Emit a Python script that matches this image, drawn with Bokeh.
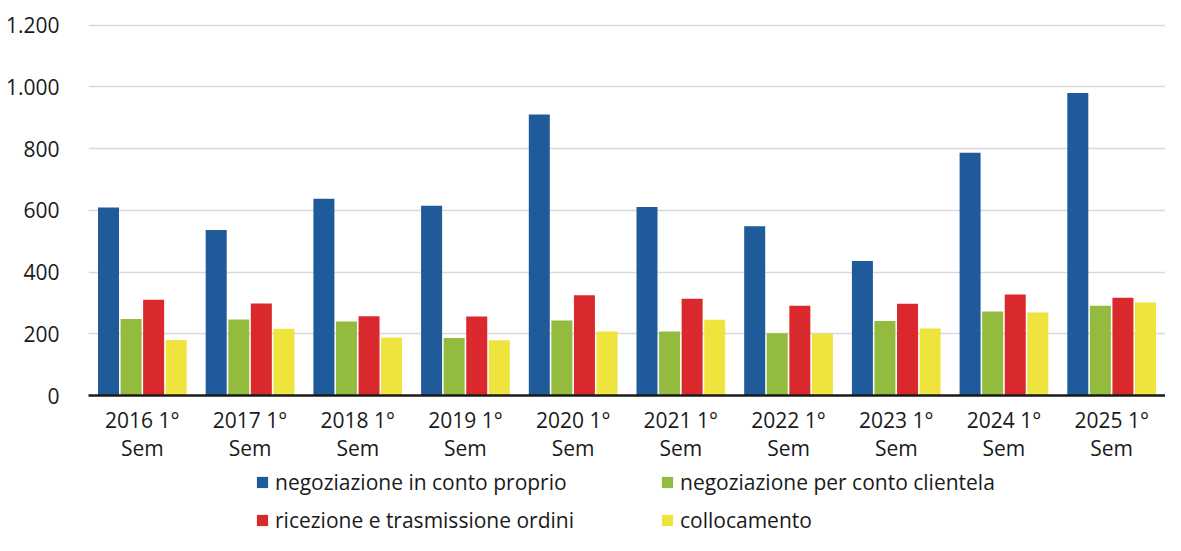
from bokeh.plotting import figure
from bokeh.layouts import column
from bokeh.models import (FactorRange, Range1d, FixedTicker, CustomJSTickFormatter,
                          Legend, LegendItem, ColumnDataSource)
from bokeh.transform import dodge
from bokeh.embed import file_html
from bokeh.resources import INLINE

categories = ["2016 1°\nSem", "2017 1°\nSem", "2018 1°\nSem", "2019 1°\nSem", "2020 1°\nSem",
              "2021 1°\nSem", "2022 1°\nSem", "2023 1°\nSem", "2024 1°\nSem", "2025 1°\nSem"]
conto_proprio = [609, 536, 637, 615, 910, 611, 548, 436, 786, 980]
conto_clientela = [248, 246, 240, 186, 243, 207, 202, 241, 272, 291]
ricezione = [310, 298, 257, 256, 325, 313, 291, 297, 327, 317]
collocamento = [180, 216, 188, 179, 207, 245, 201, 217, 269, 301]
series_names = ["negoziazione in conto proprio", "negoziazione per conto clientela",
                "ricezione e trasmissione ordini", "collocamento"]
colors = ["#1F5A9A", "#93BB3D", "#D9292C", "#EFE33D"]
y_ticks = [0, 200, 400, 600, 800, 1000, 1200]

FONT = "Open Sans"
W = 1165
FRAME_BOTTOM = 395
H1 = 466
H2 = 535 - H1

src = ColumnDataSource(dict(cat=categories, s0=conto_proprio, s1=conto_clientela,
                            s2=ricezione, s3=collocamento))

p = figure(width=W, height=H1, x_range=FactorRange(*categories, range_padding=0),
           y_range=Range1d(0, 1205), output_backend="svg", toolbar_location=None,
           min_border_left=88, min_border_right=0, min_border_top=23,
           min_border_bottom=H1 - FRAME_BOTTOM)
p.outline_line_color = None

offsets = [-0.3143, -0.1048, 0.1048, 0.3143]
for i, off in enumerate(offsets):
    p.vbar(x=dodge("cat", off, range=p.x_range), top="s%d" % i, width=0.195,
           source=src, fill_color=colors[i], line_color=None)

# axes
p.yaxis.ticker = FixedTicker(ticks=y_ticks)
p.yaxis.formatter = CustomJSTickFormatter(code="""
    if (tick >= 1000) { const r = String(tick % 1000).padStart(3, '0'); return Math.floor(tick/1000) + '.' + r; }
    return String(tick);
""")
p.yaxis.axis_line_color = None
p.yaxis.major_tick_line_color = None
p.yaxis.minor_tick_line_color = None
p.yaxis.major_label_standoff = 23
p.yaxis.major_label_text_font = FONT
p.yaxis.major_label_text_font_size = "21px"
p.yaxis.major_label_text_color = "#1a1a1a"

p.xaxis.axis_line_color = "#1a1a1a"
p.xaxis.axis_line_width = 2.5
p.xaxis.major_tick_line_color = None
p.xaxis.minor_tick_line_color = None
p.xaxis.major_label_standoff = 4
p.xaxis.major_label_text_font = FONT
p.xaxis.major_label_text_font_size = "21px"
p.xaxis.major_label_text_color = "#1a1a1a"
p.xaxis.major_label_text_line_height = 1.03

p.xgrid.grid_line_color = None
p.ygrid.grid_line_color = "#D9D9D9"
p.ygrid.grid_line_width = 1.5

# legend figure below the chart (frame aligned with the chart's frame)
lg = figure(width=W, height=H2, x_range=Range1d(0, 1), y_range=Range1d(0, 1),
            x_axis_location=None, y_axis_location=None,
            output_backend="svg", toolbar_location=None,
            min_border_left=88, min_border_right=0, min_border_top=0, min_border_bottom=0)
lg.grid.grid_line_color = None
lg.outline_line_color = None
swatches = []
for i in range(4):
    # off-screen swatch renderers, only used for the legend glyphs
    swatches.append(lg.vbar(x=[-10], top=[-5], bottom=[-6], width=0.1,
                            fill_color=colors[i], line_color=None))

order = [0, 2, 1, 3]  # legend fills column by column
items = [LegendItem(label=series_names[i], renderers=[swatches[i]]) for i in order]
legend = Legend(items=items, ncols=2, location=(167, 1),
                glyph_width=14, glyph_height=14, label_standoff=6, spacing=10,
                label_width=375, label_height=27, padding=0, margin=0,
                border_line_alpha=0, background_fill_alpha=0,
                label_text_font=FONT, label_text_font_size="21px",
                label_text_color="#1a1a1a")
lg.add_layout(legend, "center")

layout = column(p, lg, spacing=0)
open("out.html", "w").write(file_html(layout, INLINE))
